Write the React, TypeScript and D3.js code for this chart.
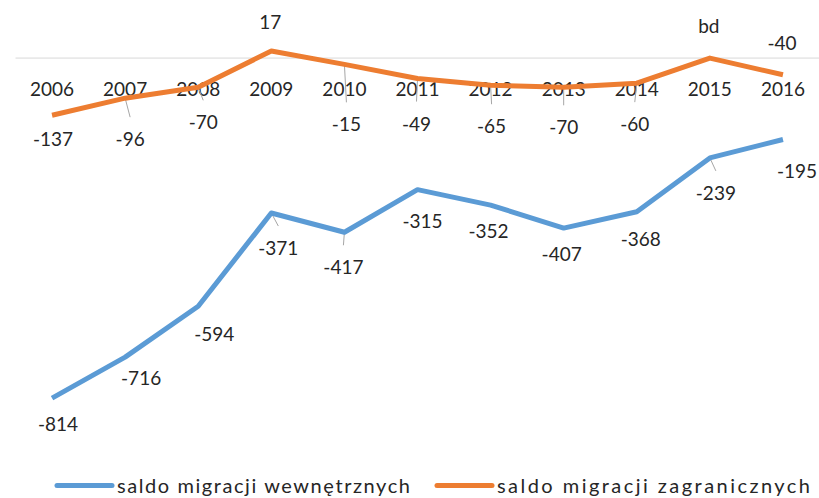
import React from "react";
import * as d3 from "d3";

const years = ["2006","2007","2008","2009","2010","2011","2012","2013","2014","2015","2016"];
const internal = [-814, -716, -594, -371, -417, -315, -352, -407, -368, -239, -195];
const foreign = [-137, -96, -70, 17, -15, -49, -65, -70, -60, 0, -40];
const foreignLabels = ["-137","-96","-70","17","-15","-49","-65","-70","-60","bd","-40"];
const internalLabels = internal.map(String);
const seriesNames = ["saldo migracji wewnętrznych", "saldo migracji zagranicznych"];

// label offsets relative to point (dx, baseline dy) and whether a leader line is drawn
const foreignOffsets: [number, number, boolean][] = [
  [1, 31, false], [5, 48, true], [5, 42, true], [-1, -22, false], [2, 67, true],
  [-1, 52, true], [1, 48, true], [0, 47, true], [-2, 48, true], [-1, -25, false], [-1, -25, false],
];
const internalOffsets: [number, number, boolean][] = [
  [6, 33, false], [16, 28, false], [16, 35, false], [7, 42, true], [-1, 42, true],
  [5, 38, false], [-2, 33, false], [-2, 33, false], [4, 34, false], [6, 42, true], [14, 38, false],
];

const W = 819, H = 498;
const BLUE = "#5B9BD5", ORANGE = "#ED7D31";
const FONT = "Lato, 'Open Sans', sans-serif";

export default function App() {
  const x = d3.scaleBand<string>().domain(years).range([15.5, 819.5]).padding(0);
  const cx = (y: string) => (x(y) ?? 0) + x.bandwidth() / 2;
  const y = d3.scaleLinear().domain([-900, 100]).range([434, 16.3]);
  const line = d3.line<number>().x((_, i) => cx(years[i])).y((d) => y(d));

  const renderLeaders = (vals: number[], offs: [number, number, boolean][], key: string) =>
    vals.map((v, i) => {
      const px = cx(years[i]), py = y(v);
      const [dx, dy, leader] = offs[i];
      return leader ? (
        <line key={key + i} x1={px} y1={py} x2={px + dx} y2={py + dy - 29} stroke="#a6a6a6" strokeWidth={1} />
      ) : null;
    });

  const renderTexts = (vals: number[], labels: string[], offs: [number, number, boolean][], key: string) =>
    vals.map((v, i) => {
      const px = cx(years[i]), py = y(v);
      const [dx, dy] = offs[i];
      return (
        <text key={key + "t" + i} x={px + dx} y={py + dy} textAnchor="middle" fontSize={19} fill="#262626" fontFamily={FONT}>
          {labels[i]}
        </text>
      );
    });

  return (
    <svg width={W} height={H} style={{ position: "absolute", left: 0, top: 0, background: "#fff" }}>
      <rect width={W} height={H} fill="#fff" />
      <line x1={15.5} x2={819.5} y1={y(0)} y2={y(0)} stroke="#d9d9d9" strokeWidth={1} />
      {years.map((yr) => (
        <text key={yr} x={cx(yr)} y={96} textAnchor="middle" fontSize={19} fill="#262626" fontFamily={FONT}>
          {yr}
        </text>
      ))}
      {renderLeaders(foreign, foreignOffsets, "f")}
      {renderLeaders(internal, internalOffsets, "i")}
      <path d={line(internal) ?? ""} fill="none" stroke={BLUE} strokeWidth={5} strokeLinejoin="round" />
      <path d={line(foreign) ?? ""} fill="none" stroke={ORANGE} strokeWidth={5} strokeLinejoin="round" />
      {renderTexts(foreign, foreignLabels, foreignOffsets, "f")}
      {renderTexts(internal, internalLabels, internalOffsets, "i")}
      <g fontFamily={FONT} fontSize={20} fill="#262626">
        <line x1={57} x2={112} y1={485.5} y2={485.5} stroke={BLUE} strokeWidth={5} strokeLinecap="round" />
        <text x={117} y={493} textLength={293} lengthAdjust="spacing">{seriesNames[0]}</text>
        <line x1={437} x2={492} y1={485.5} y2={485.5} stroke={ORANGE} strokeWidth={5} strokeLinecap="round" />
        <text x={497} y={493} textLength={313} lengthAdjust="spacing">{seriesNames[1]}</text>
      </g>
    </svg>
  );
}
